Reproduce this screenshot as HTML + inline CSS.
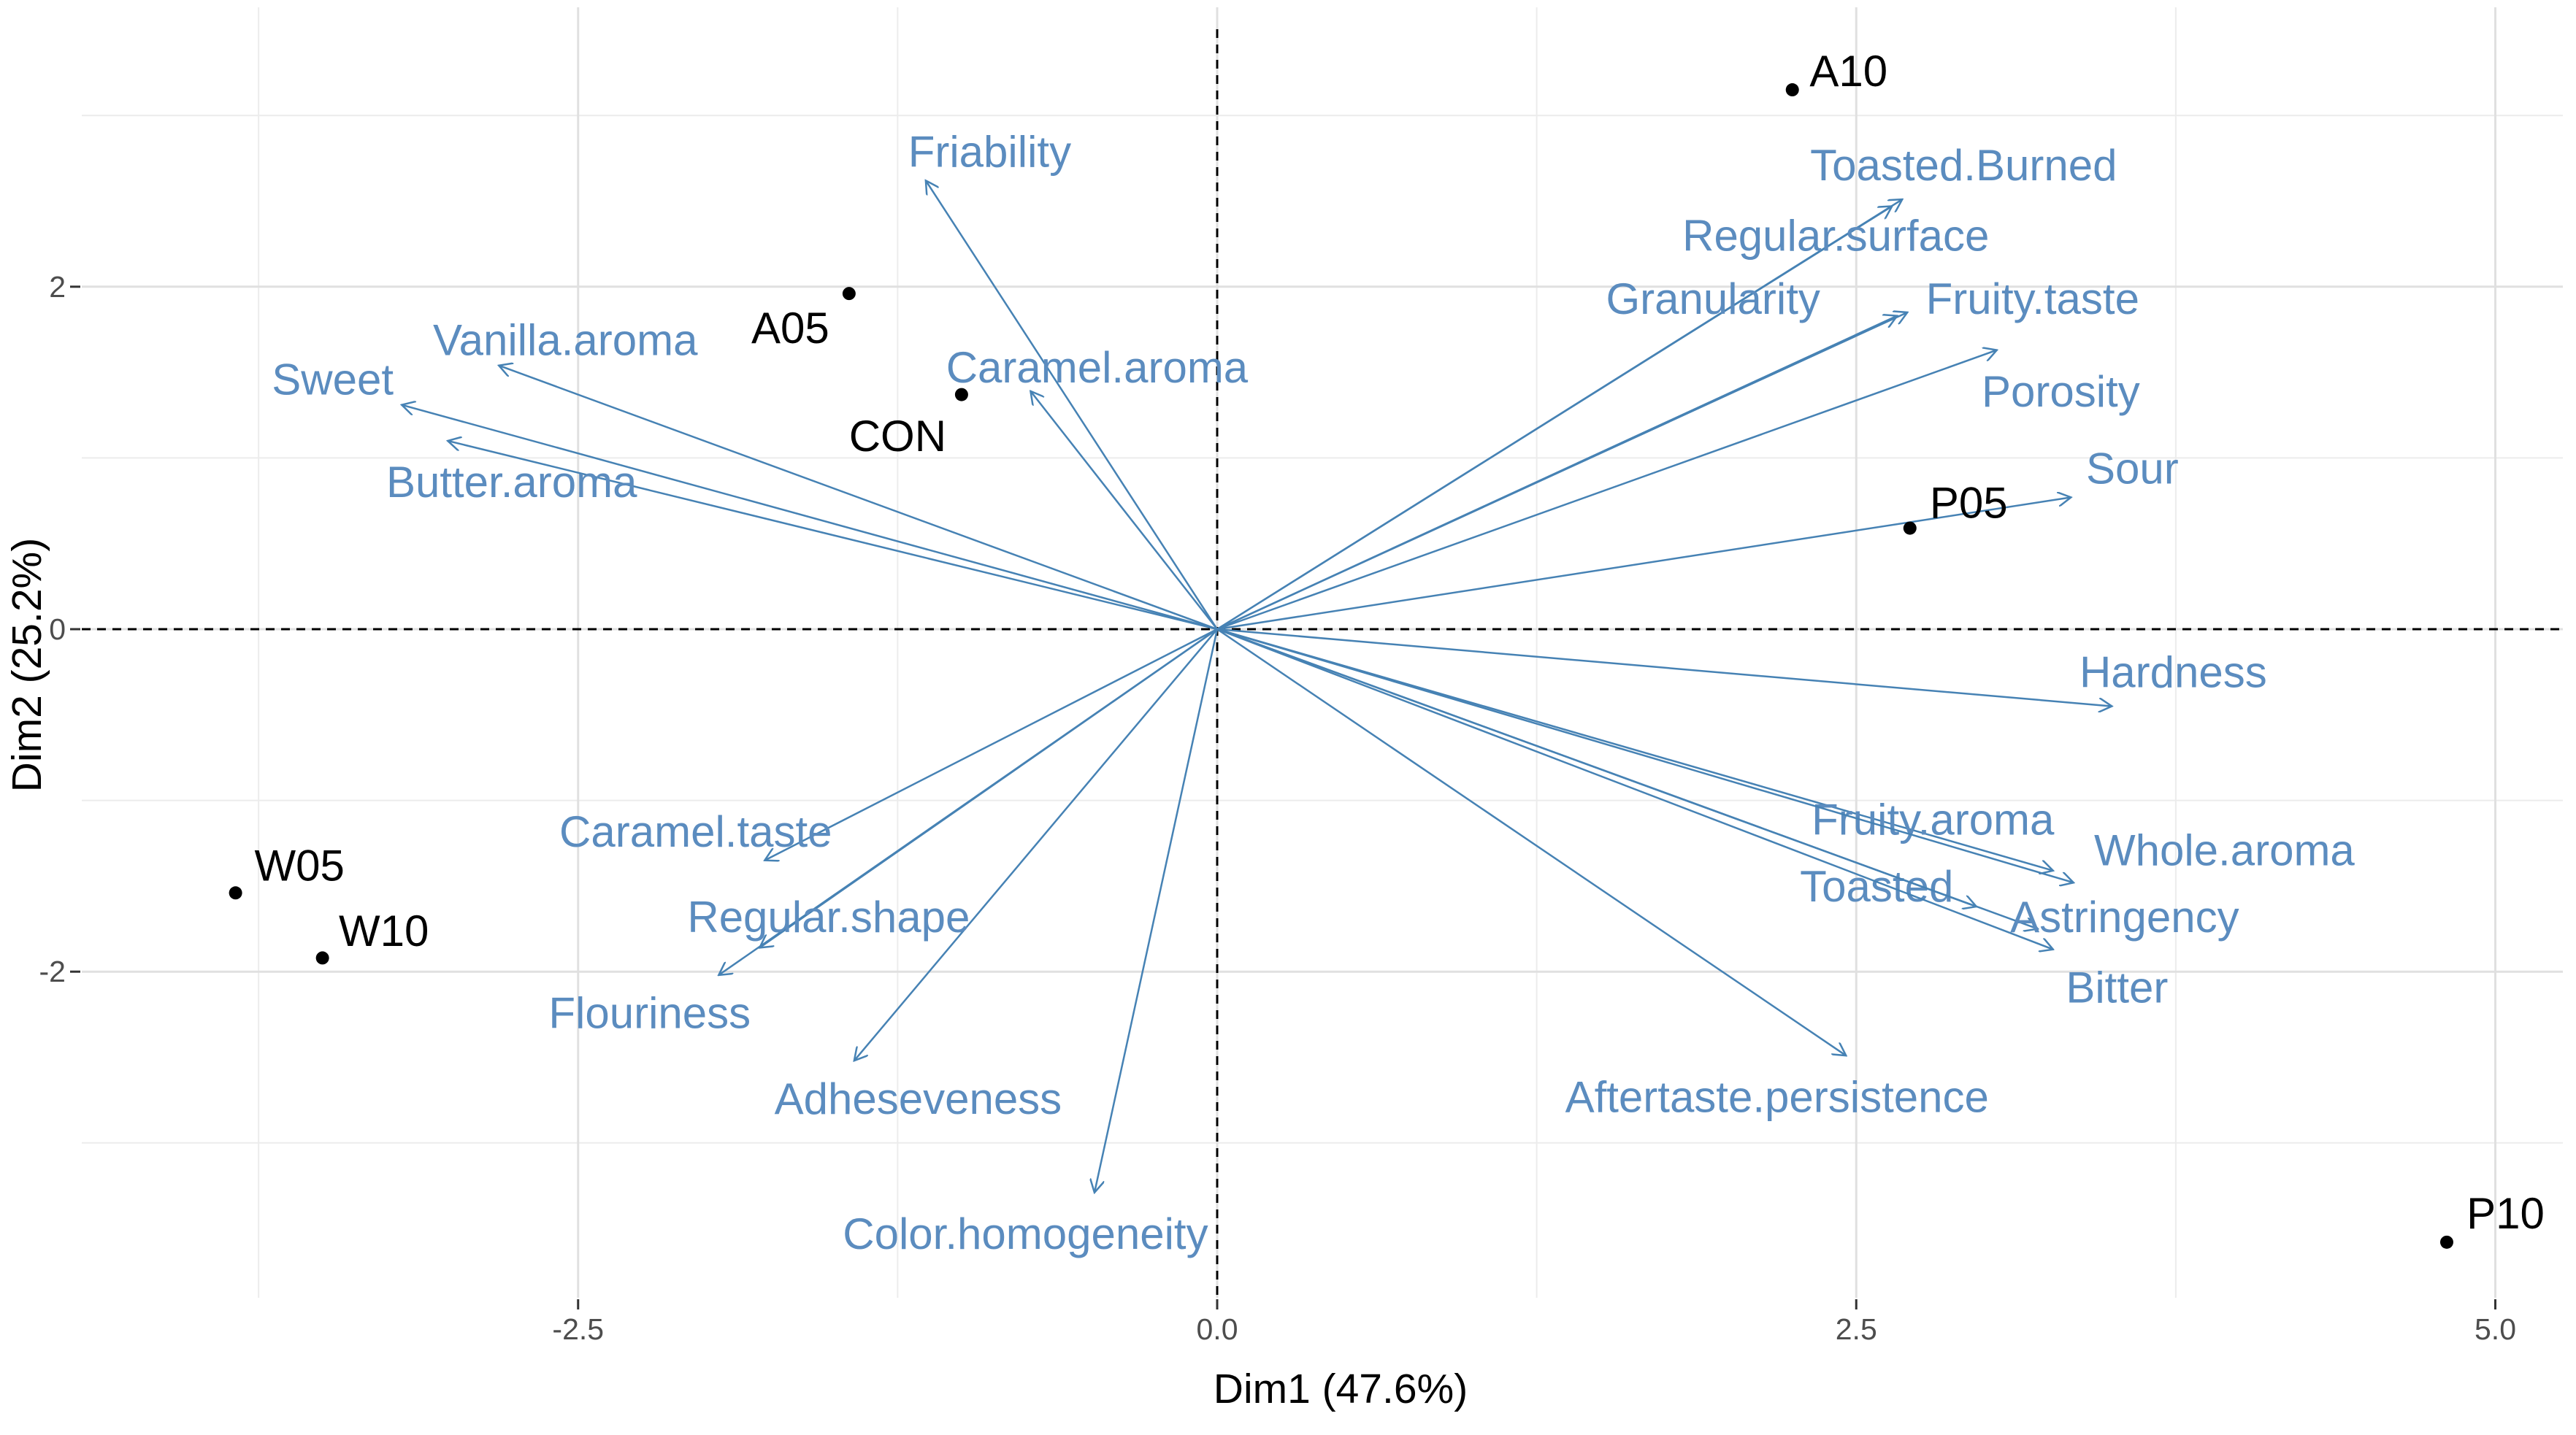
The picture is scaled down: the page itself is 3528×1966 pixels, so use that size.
<!DOCTYPE html>
<html><head><meta charset="utf-8"><style>
html,body{margin:0;padding:0;background:#fff;}
svg{display:block;font-family:"Liberation Sans",sans-serif;}
</style></head><body>
<svg id="chart" width="3528" height="1966" viewBox="0 0 3528 1966" xmlns="http://www.w3.org/2000/svg">
<defs><marker id="ah" viewBox="0 0 20 20" refX="18" refY="10" markerWidth="20" markerHeight="20" markerUnits="userSpaceOnUse" orient="auto"><path d="M0,0 L18,10 L0,20" fill="none" stroke="#4682B4" stroke-width="2.5"/></marker></defs>
<g id="grid"></g>
<g id="axes"></g>
<g id="arrows"></g>
<g id="points"></g>
<text x="1836" y="1922" font-size="57" text-anchor="middle" fill="#000">Dim1 (47.6%)</text>
<text x="56" y="911" font-size="57" text-anchor="middle" fill="#000" transform="rotate(-90 56 911)">Dim2 (25.2%)</text>
</svg>
<script>
const varNames=["Friability","Vanilla.aroma","Sweet","Butter.aroma","Caramel.aroma","Toasted.Burned","Regular.surface","Granularity","Fruity.taste","Porosity","Sour","Hardness","Fruity.aroma","Whole.aroma","Toasted","Astringency","Bitter","Aftertaste.persistence","Color.homogeneity","Adheseveness","Flouriness","Regular.shape","Caramel.taste"];
const varX=[-1.14,-2.81,-3.19,-3.01,-0.73,2.68,2.64,2.66,2.70,3.05,3.34,3.50,3.27,3.35,2.97,3.21,3.27,2.46,-0.48,-1.42,-1.95,-1.79,-1.77];
const varY=[2.62,1.54,1.31,1.10,1.39,2.51,2.47,1.83,1.85,1.63,0.77,-0.45,-1.41,-1.48,-1.62,-1.75,-1.87,-2.49,-3.29,-2.52,-2.02,-1.86,-1.35];
const varLabX=[-0.89,-2.55,-3.46,-2.76,-0.47,2.92,2.42,1.94,3.19,3.30,3.58,3.74,2.80,3.94,2.58,3.55,3.52,2.19,-0.75,-1.17,-2.22,-1.52,-2.04];
const varLabY=[2.79,1.69,1.46,0.86,1.53,2.71,2.30,1.93,1.93,1.39,0.94,-0.25,-1.11,-1.29,-1.50,-1.68,-2.09,-2.73,-3.53,-2.74,-2.24,-1.68,-1.18];
const indNames=["A10","A05","CON","P05","W05","W10","P10"];
const indX=[2.25,-1.44,-1.0,2.71,-3.84,-3.50,4.81];
const indY=[3.15,1.96,1.37,0.59,-1.54,-1.92,-3.58];
const indLabX=[2.47,-1.67,-1.25,2.94,-3.59,-3.26,5.04];
const indLabY=[3.26,1.76,1.13,0.74,-1.38,-1.76,-3.41];
const xTicks=[-2.5,0,2.5,5];
const xTickLabels=["-2.5","0.0","2.5","5.0"];
const xMinor=[-3.75,-1.25,1.25,3.75];
const yTicks=[-2,0,2];
const yTickLabels=["-2","0","2"];
const yMinor=[-3,-1,1,3];

const X0=1667,SX=350.1,Y0=862,SY=234.6;
const L=112,R=3510,T=10,B=1778;
const sx=v=>X0+v*SX, sy=v=>Y0-v*SY;
const NS="http://www.w3.org/2000/svg";
function mk(tag,attrs,parent){const e=document.createElementNS(NS,tag);for(const k in attrs)e.setAttribute(k,attrs[k]);parent.appendChild(e);return e;}
const grid=document.getElementById('grid'),axes=document.getElementById('axes'),arrows=document.getElementById('arrows'),points=document.getElementById('points');
xMinor.forEach(v=>{const l=mk('line',{x1:sx(v),x2:sx(v),y1:T,y2:B,stroke:'#ececec','stroke-width':2},grid);

});
yMinor.forEach(v=>{const l=mk('line',{x1:L,x2:R,y1:sy(v),y2:sy(v),stroke:'#ececec','stroke-width':2},grid);

});
xTicks.forEach((v,i)=>{const l=mk('line',{x1:sx(v),x2:sx(v),y1:T,y2:B,stroke:'#e0e0e0','stroke-width':3},grid);


const t=mk('line',{x1:sx(v),x2:sx(v),y1:B+2,y2:B+16,stroke:'#333','stroke-width':3},axes);


const tx=mk('text',{x:sx(v),y:B+57,'font-size':41,'text-anchor':'middle',fill:'#4d4d4d'},axes);tx.textContent=xTickLabels[i];

});
yTicks.forEach((v,i)=>{const l=mk('line',{x1:L,x2:R,y1:sy(v),y2:sy(v),stroke:'#e0e0e0','stroke-width':3},grid);


const t=mk('line',{x1:L-16,x2:L-2,y1:sy(v),y2:sy(v),stroke:'#333','stroke-width':3},axes);


const tx=mk('text',{x:L-22,y:sy(v)+14,'font-size':41,'text-anchor':'end',fill:'#4d4d4d'},axes);tx.textContent=yTickLabels[i];

});
const h=mk('line',{x1:L,x2:R,y1:sy(0),y2:sy(0),stroke:'#000','stroke-width':3,'stroke-dasharray':'12,9'},axes);


const vl=mk('line',{x1:sx(0),x2:sx(0),y1:T+30,y2:B,stroke:'#000','stroke-width':3,'stroke-dasharray':'12,9'},axes);


varNames.forEach((n,i)=>{const a=mk('line',{x1:sx(0),y1:sy(0),x2:sx(varX[i]),y2:sy(varY[i]),stroke:'#4682B4','stroke-width':2.5,'marker-end':'url(#ah)'},arrows);


const t=mk('text',{x:sx(varLabX[i]),y:sy(varLabY[i])+21,'font-size':60,'text-anchor':'middle',fill:'#5b8cbf'},arrows);t.textContent=n;

});
indNames.forEach((n,i)=>{const c=mk('circle',{cx:sx(indX[i]),cy:sy(indY[i]),r:9,fill:'#000'},points);


const t=mk('text',{x:sx(indLabX[i]),y:sy(indLabY[i])+21,'font-size':60,'text-anchor':'middle',fill:'#000'},points);t.textContent=n;

});
</script>
</body></html>
